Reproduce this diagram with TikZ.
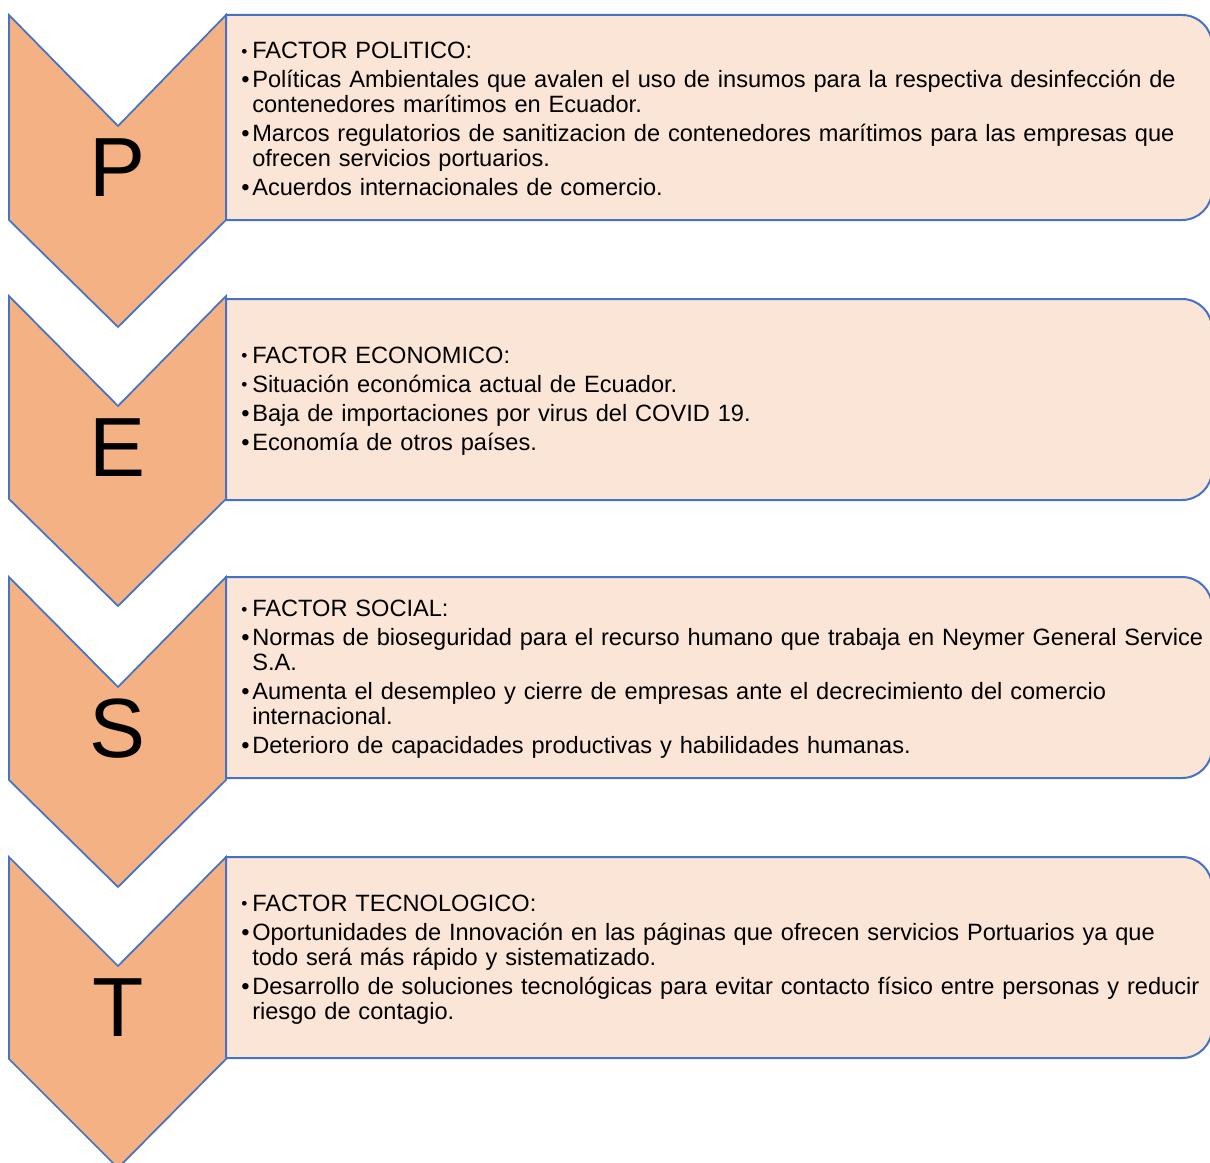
\documentclass[tikz,border=0pt]{standalone}
\usepackage{fontspec}
\setmainfont{Liberation Sans}

\definecolor{chevfill}{HTML}{F4B183}
\definecolor{boxfill}{HTML}{FBE5D6}
\definecolor{edgeblue}{HTML}{4472C4}

% one bullet line of a factor box, with hanging indent
\newcommand{\pitem}[2][\textbullet]{\par\noindent\hangindent=8.25pt\hangafter=1\makebox[8.25pt][l]{#1}#2}
\newcommand{\smallbul}{\raisebox{0.8pt}{\fontsize{13}{13}\selectfont\textbullet}}

\tikzset{
  chevron/.style={draw=edgeblue, fill=chevfill, line width=1.3pt, line join=miter},
  factbox/.style={draw=edgeblue, fill=boxfill, line width=1.5pt},
  letter/.style={font=\fontsize{63}{63}\selectfont},
  facts/.style={anchor=west, inner sep=0pt, text width=750pt, align=left,
    font=\fontsize{17.7}{18.75}\selectfont\setlength{\parskip}{3pt}},
}

\begin{document}
\begin{tikzpicture}[x=0.75pt,y=0.75pt,yscale=-1,xscale=1]

\useasboundingbox (0,0) rectangle (1210,1163);

% factor boxes, square on the left, rounded on the right
\draw [factbox] (226,15) -- (1182,15) arc (-90:0:30) -- (1212,190) arc (0:90:30) -- (226,220) -- cycle;
\draw [factbox] (226,299) -- (1182,299) arc (-90:0:30) -- (1212,470) arc (0:90:30) -- (226,500) -- cycle;
\draw [factbox] (226,577) -- (1182,577) arc (-90:0:30) -- (1212,748) arc (0:90:30) -- (226,778) -- cycle;
\draw [factbox] (226,857) -- (1182,857) arc (-90:0:30) -- (1212,1028) arc (0:90:30) -- (226,1058) -- cycle;

% chevrons
\draw [chevron] (9,15) -- (118,126) -- (226,15) -- (226,220) -- (118,327) -- (9,220) -- cycle;
\draw [chevron] (9,296) -- (118,406) -- (226,296) -- (226,499) -- (118,606) -- (9,499) -- cycle;
\draw [chevron] (9,577) -- (118,687) -- (226,577) -- (226,780) -- (118,887) -- (9,780) -- cycle;
\draw [chevron] (9,857) -- (118,966) -- (226,857) -- (226,1059) -- (118,1168) -- (9,1059) -- cycle;

\draw (118,168) node [letter] (letP) {P};
\draw (118,448) node [letter] (letE) {E};
\draw (118,729) node [letter] (letS) {S};
\draw (118,1008) node [letter] (letT) {T};

\draw (241,112.5) node [facts] (txtP) {%
\pitem[\smallbul]{FACTOR POLITICO:}
\pitem{Políticas Ambientales que avalen el uso de insumos para la respectiva desinfección de\newline contenedores marítimos en Ecuador.}
\pitem{Marcos regulatorios de sanitizacion de contenedores marítimos para las empresas que\newline ofrecen servicios portuarios.}
\pitem{Acuerdos internacionales de comercio.}\par};

\draw (241,394.5) node [facts] (txtE) {%
\pitem[\smallbul]{FACTOR ECONOMICO:}
\pitem[\smallbul]{Situación económica actual de Ecuador.}
\pitem{Baja de importaciones por virus del COVID 19.}
\pitem{Economía de otros países.}\par};

\draw (241,673) node [facts] (txtS) {%
\pitem[\smallbul]{FACTOR SOCIAL:}
\pitem{Normas de bioseguridad para el recurso humano que trabaja en Neymer General Service\newline S.A.}
\pitem{Aumenta el desempleo y cierre de empresas ante el decrecimiento del comercio\newline internacional.}
\pitem{Deterioro de capacidades productivas y habilidades humanas.}\par};

\draw (241,953) node [facts] (txtT) {%
\pitem[\smallbul]{FACTOR TECNOLOGICO:}
\pitem{Oportunidades de Innovación en las páginas que ofrecen servicios Portuarios ya que\newline todo será más rápido y sistematizado.}
\pitem{Desarrollo de soluciones tecnológicas para evitar contacto físico entre personas y reducir\newline riesgo de contagio.}\par};

\end{tikzpicture}
\end{document}
